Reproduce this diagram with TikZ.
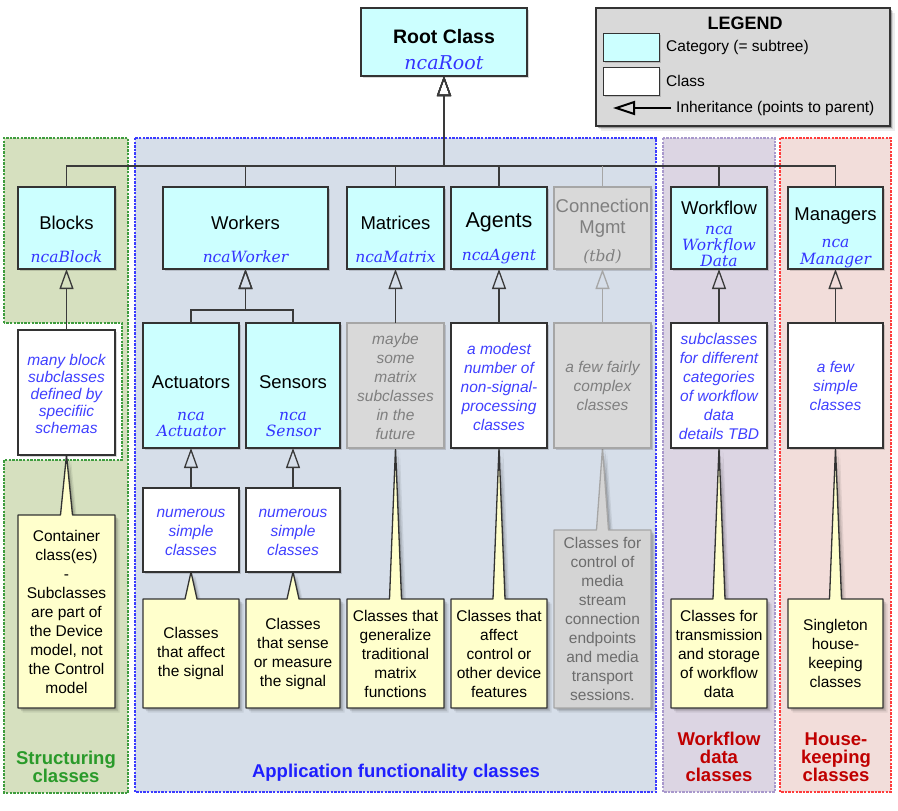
\documentclass[tikz,border=0pt]{standalone}
\usepackage{fontspec}
\setmainfont{Liberation Sans}
\newfontfamily\clsfont{DejaVu Serif}
\usetikzlibrary{arrows.meta,calc,shadows}

\definecolor{boxline}{HTML}{333333}
\definecolor{linecol}{HTML}{3A3A3A}
\definecolor{catfill}{HTML}{CCFFFF}
\definecolor{notefill}{HTML}{FFFFCC}
\definecolor{tbdfill}{HTML}{D9D9D9}
\definecolor{tbdline}{HTML}{A6A6A6}
\definecolor{tbdtext}{HTML}{7F7F7F}
\definecolor{tbdnote}{HTML}{D4D4D4}
\definecolor{clsblue}{HTML}{3333FF}
\definecolor{descblue}{HTML}{4040FF}
\definecolor{greenfill}{HTML}{D6E0BF}
\definecolor{greenline}{HTML}{3E9C3E}
\definecolor{greentext}{HTML}{2A9A2A}
\definecolor{bluefill}{HTML}{D6DEE9}
\definecolor{blueline}{HTML}{3B3BFF}
\definecolor{bluetext}{HTML}{1F1FFF}
\definecolor{purplefill}{HTML}{DCD5E3}
\definecolor{purpleline}{HTML}{A898CC}
\definecolor{redfill}{HTML}{F2DDDA}
\definecolor{redline}{HTML}{FF3B3B}
\definecolor{redtext}{HTML}{C00000}
\definecolor{legendfill}{HTML}{D9D9D9}

\pgfdeclarelayer{groups}
\pgfdeclarelayer{callouts}
\pgfsetlayers{groups,callouts,main}

\begin{document}
\begin{tikzpicture}[x=1pt, y=-1pt,
  boxshadow/.style={drop shadow={shadow xshift=1.5pt, shadow yshift=-1.5pt, fill=black, opacity=0.15}},
  box/.style={rectangle, inner sep=0pt, outer sep=0pt, line width=1.3pt, draw=boxline, boxshadow},
  catbox/.style={box, fill=catfill},
  clsbox/.style={box, fill=white},
  tbdbox/.style={box, fill=tbdfill, draw=tbdline},
  title/.style={inner sep=0pt, align=center, font=\fontsize{18.5}{21}\selectfont},
  cname/.style={inner sep=0pt, align=center, text=clsblue, font=\clsfont\itshape\fontsize{15.5}{16.5}\selectfont},
  desc/.style={inner sep=0pt, align=center, text=descblue, font=\itshape\fontsize{15.5}{19}\selectfont},
  notetext/.style={inner sep=0pt, outer sep=0pt, align=center, font=\fontsize{15.5}{19}\selectfont},
  softshadow/.style={
    drop shadow={shadow xshift=4.5pt, shadow yshift=-4.5pt, fill=black, opacity=0.07},
    drop shadow={shadow xshift=3pt, shadow yshift=-3pt, fill=black, opacity=0.10},
    drop shadow={shadow xshift=1.5pt, shadow yshift=-1.5pt, fill=black, opacity=0.14}},
  callout/.style={fill=notefill, draw=boxline, line width=1.3pt, line join=round, softshadow},
  grouplabel/.style={inner sep=0pt, align=center, font=\bfseries\fontsize{18.5}{17.8}\selectfont},
  grpframe/.style={line width=1.4pt, dash pattern=on 2.4pt off 1.2pt},
  inh/.style={draw=linecol, line width=1.3pt, -{Triangle[open, length=20pt, width=14pt]}},
  legtext/.style={inner sep=0pt, anchor=west, font=\fontsize{15.5}{18}\selectfont},
]
\useasboundingbox (0,0) rectangle (898,811);

% ---------- group areas ----------
\begin{pgfonlayer}{groups}
  % structuring classes (with a notch around the block subclasses)
  \fill[greenfill] (4,138) rectangle (128,793);
  \fill[white] (0,323) rectangle (122,460);
  \draw[grpframe, draw=greenline] (4,323) -- (4,138) -- (128,138) -- (128,793)
        -- (4,793) -- (4,460) -- (122,460) -- (122,323) -- cycle;
  % application functionality classes
  \filldraw[grpframe, fill=bluefill, draw=blueline] (135,138) rectangle (656,792);
  % workflow data classes
  \filldraw[grpframe, fill=purplefill, draw=purpleline] (663,138) rectangle (775,792);
  % housekeeping classes
  \filldraw[grpframe, fill=redfill, draw=redline] (780,138) rectangle (891,792);
\end{pgfonlayer}

% ---------- legend ----------
\node[box, fill=legendfill, line width=1.5pt, minimum width=294pt, minimum height=118pt, softshadow]
      (legend) at (743,67) {};
\node[inner sep=0pt, font=\bfseries\fontsize{18}{20}\selectfont] (legtitle) at (745,23) {LEGEND};
\node[catbox, line width=1.6pt, minimum width=56pt, minimum height=28pt] (legcat) at (631.5,47.5) {};
\node[clsbox, line width=1.6pt, minimum width=56pt, minimum height=28pt] (legcls) at (631.5,81.5) {};
\node[legtext] (legcattext) at (666,47) {Category (= subtree)};
\node[legtext] (legclstext) at (666,81) {Class};
\coordinate (legarrowstart) at (671,108);
\coordinate (legarrowend) at (613,108);
\draw[line width=2.4pt, draw=black, -{Triangle[open, length=22pt, width=14pt, line width=2pt]}]
      (legarrowstart) -- (legarrowend);
\node[legtext] (leginhtext) at (676,108) {Inheritance (points to parent)};

% ---------- root ----------
\node[catbox, minimum width=166pt, minimum height=68pt] (root) at (444,42) {};
\node[inner sep=0pt, font=\bfseries\fontsize{19.5}{22}\selectfont] (t-root) at (444,37) {Root Class};
\node[cname, font=\clsfont\itshape\fontsize{19}{22}\selectfont] (n-root) at (444,63) {ncaRoot};

% ---------- categories ----------
\node[catbox, minimum width=97pt, minimum height=82pt] (blocks) at (66.5,228) {};
\node[title] (t-blocks) at (66.5,223) {Blocks};
\node[cname] (n-blocks) at (66.5,257) {ncaBlock};

\node[catbox, minimum width=165pt, minimum height=82pt] (workers) at (245.5,228) {};
\node[title] (t-workers) at (245.5,223) {Workers};
\node[cname] (n-workers) at (245.5,257) {ncaWorker};

\node[catbox, minimum width=97pt, minimum height=82pt] (matrices) at (395.5,228) {};
\node[title] (t-matrices) at (395.5,223) {Matrices};
\node[cname] (n-matrices) at (395.5,257) {ncaMatrix};

\node[catbox, minimum width=96pt, minimum height=82pt] (agents) at (499,228) {};
\node[title, font=\fontsize{21.5}{24}\selectfont] (t-agents) at (499,222) {Agents};
\node[cname] (n-agents) at (499,257) {ncaAgent};

\node[tbdbox, minimum width=97pt, minimum height=82pt] (conn) at (602.5,228) {};
\node[title, text=tbdtext] (t-conn) at (602.5,218.5) {Connection\\Mgmt};
\node[cname, text=tbdtext] (n-conn) at (602.5,257) {(tbd)};

\node[catbox, minimum width=96pt, minimum height=82pt] (workflow) at (719,228) {};
\node[title] (t-workflow) at (719,208) {Workflow};
\node[cname, font=\clsfont\itshape\fontsize{15.5}{16}\selectfont] (n-workflow) at (719,246) {nca\\Workflow\\Data};

\node[catbox, minimum width=95pt, minimum height=82pt] (managers) at (835.5,228) {};
\node[title] (t-managers) at (835.5,216) {Managers};
\node[cname] (n-managers) at (835.5,253.5) {nca\\Manager};

% ---------- second row ----------
\node[clsbox, minimum width=97pt, minimum height=125pt] (blocksub) at (66.5,392.5) {};
\node[desc, font=\itshape\fontsize{15.5}{17.2}\selectfont] (d-blocksub) at (66.5,394)
      {many block\\subclasses\\defined by\\specifiic\\schemas};

\node[catbox, minimum width=96pt, minimum height=125pt] (act) at (191,385.5) {};
\node[title] (t-act) at (191,382) {Actuators};
\node[cname] (n-act) at (191,424.5) {nca\\Actuator};

\node[catbox, minimum width=94pt, minimum height=125pt] (sen) at (293,385.5) {};
\node[title] (t-sen) at (293,382) {Sensors};
\node[cname] (n-sen) at (293,424.5) {nca\\Sensor};

\node[tbdbox, minimum width=97pt, minimum height=125pt] (matsub) at (395.5,385.5) {};
\node[desc, text=tbdtext] (d-matsub) at (395.5,386.5) {maybe\\some\\matrix\\subclasses\\in the\\future};

\node[clsbox, minimum width=96pt, minimum height=125pt] (agsub) at (499,385.5) {};
\node[desc] (d-agsub) at (499,387) {a modest\\number of\\non-signal-\\processing\\classes};

\node[tbdbox, minimum width=97pt, minimum height=125pt] (connsub) at (602.5,385.5) {};
\node[desc, text=tbdtext] (d-connsub) at (602.5,386) {a few fairly\\complex\\classes};

\node[clsbox, minimum width=96pt, minimum height=125pt] (wfsub) at (719,385.5) {};
\node[desc] (d-wfsub) at (719,386.5) {subclasses\\for different\\categories\\of workflow\\data\\details TBD};

\node[clsbox, minimum width=95pt, minimum height=125pt] (mgsub) at (835.5,385.5) {};
\node[desc] (d-mgsub) at (835.5,386) {a few\\simple\\classes};

% ---------- third row ----------
\node[clsbox, minimum width=96pt, minimum height=84pt] (actnum) at (191,530) {};
\node[desc] (d-actnum) at (191,532) {numerous\\simple\\classes};
\node[clsbox, minimum width=94pt, minimum height=84pt] (sennum) at (293,530) {};
\node[desc] (d-sennum) at (293,532) {numerous\\simple\\classes};

% ---------- notes ----------
\node[notetext, minimum width=97pt, minimum height=193pt] (blocknote) at (66.5,611.5)
      {Container\\class(es)\\-\\Subclasses\\are part of\\the Device\\model, not\\the Control\\model};
\node[notetext, minimum width=96pt, minimum height=109pt] (actnote) at (191,653.5)
      {Classes\\that affect\\the signal};
\node[notetext, minimum width=94pt, minimum height=109pt] (sennote) at (293,653.5)
      {Classes\\that sense\\or measure\\the signal};
\node[notetext, minimum width=97pt, minimum height=109pt] (matnote) at (395.5,653.5)
      {Classes that\\generalize\\traditional\\matrix\\functions};
\node[notetext, minimum width=96pt, minimum height=109pt] (agnote) at (499,653.5)
      {Classes that\\affect\\control or\\other device\\features};
\node[notetext, text=tbdtext!85!black, minimum width=97pt, minimum height=178pt] (connnote) at (602.5,619)
      {Classes for\\control of\\media\\stream\\connection\\endpoints\\and media\\transport\\sessions.};
\node[notetext, minimum width=96pt, minimum height=109pt] (wfnote) at (719,653.5)
      {Classes for\\transmission\\and storage\\of workflow\\data};
\node[notetext, minimum width=95pt, minimum height=109pt] (mgnote) at (835.5,653.5)
      {Singleton\\house-\\keeping\\classes};

\begin{pgfonlayer}{callouts}
  \foreach \n/\p in {blocknote/blocksub, actnote/actnum, sennote/sennum, matnote/matsub,
                     agnote/agsub, wfnote/wfsub, mgnote/mgsub}{
    \draw[callout] (\n.north west) -- ($(\n.north)+(-6,0)$) -- (\p.south)
      -- ($(\n.north)+(6,0)$) -- (\n.north east) -- (\n.south east) -- (\n.south west) -- cycle;
  }
  \draw[callout, fill=tbdnote, draw=tbdline] (connnote.north west) -- ($(connnote.north)+(-6,0)$)
      -- (connsub.south) -- ($(connnote.north)+(6,0)$) -- (connnote.north east)
      -- (connnote.south east) -- (connnote.south west) -- cycle;
\end{pgfonlayer}

% ---------- inheritance connectors ----------
\coordinate (bus) at (444,166);
\foreach \c in {blocks, workers, matrices, agents, workflow, managers}{
  \draw[inh] (\c.north) |- (bus) -- (root.south);
}
\draw[draw=tbdline, line width=1.3pt] (conn.north) -- (conn.north |- bus);

\coordinate (wj) at (245.5,310);
\draw[inh] (act.north) |- (wj) -- (workers.south);
\draw[inh] (sen.north) |- (wj) -- (workers.south);
\draw[inh] (blocksub.north) -- (blocks.south);
\draw[inh] (actnum.north) -- (act.south);
\draw[inh] (sennum.north) -- (sen.south);
\draw[inh] (matsub.north) -- (matrices.south);
\draw[inh] (agsub.north) -- (agents.south);
\draw[inh, draw=tbdline] (connsub.north) -- (conn.south);
\draw[inh] (wfsub.north) -- (workflow.south);
\draw[inh] (mgsub.north) -- (managers.south);

% ---------- group labels ----------
\node[grouplabel, text=greentext] (lbl-struct) at (66,766.5) {Structuring\\classes};
\node[grouplabel, text=bluetext] (lbl-app) at (396,773) {Application functionality classes};
\node[grouplabel, text=redtext] (lbl-wf) at (719,757) {Workflow\\data\\classes};
\node[grouplabel, text=redtext] (lbl-hk) at (836,757) {House-\\keeping\\classes};
\end{tikzpicture}
\end{document}
